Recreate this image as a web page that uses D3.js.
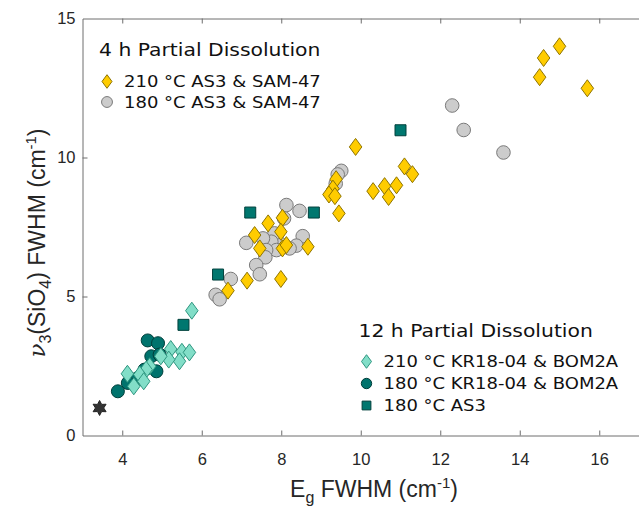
<!DOCTYPE html>
<html>
<head>
<meta charset="utf-8">
<script src="https://cdn.jsdelivr.net/npm/d3@7"></script>
<style>
  body { margin: 0; background: #fff; }
  svg { display: block; }
</style>
</head>
<body>
<svg id="chart" width="639" height="508"></svg>
<script>
// Points are [Eg FWHM, v3(SiO4) FWHM], both in cm^-1.

// 4 h partial dissolution, 210 °C (AS3 & SAM-47)
const h4_210 = [
  [15.00, 14.00], [14.60, 13.58], [14.50, 12.89], [15.70, 12.49],
  [9.87, 10.38], [11.10, 9.68], [11.30, 9.40], [10.31, 8.79], [10.60, 8.97],
  [10.90, 9.00], [10.70, 8.58], [9.38, 9.22], [9.30, 8.88], [9.20, 8.67],
  [9.35, 8.61], [9.45, 7.99], [7.67, 7.63], [8.03, 7.83], [7.99, 7.33],
  [7.33, 7.21], [7.46, 6.73], [8.03, 6.73], [8.13, 6.85], [8.67, 6.79],
  [7.14, 5.57], [7.99, 5.63], [6.66, 5.21]
];

// 4 h partial dissolution, 180 °C (AS3 & SAM-47)
const h4_180 = [
  [12.30, 11.87], [12.59, 10.99], [13.59, 10.18],
  [9.51, 9.52], [9.42, 9.39], [9.37, 9.06],
  [8.13, 8.29], [8.46, 8.08], [8.07, 7.81], [8.54, 7.17], [8.38, 6.83],
  [8.21, 6.73], [7.96, 6.91], [7.83, 7.27], [7.75, 6.97], [7.54, 7.09],
  [7.88, 6.67], [7.62, 6.67], [7.60, 6.41], [7.12, 6.93], [7.37, 6.13],
  [7.46, 5.80], [6.73, 5.63], [6.35, 5.06], [6.45, 4.90]
];

// 12 h partial dissolution, 210 °C (KR18-04 & BOM2A)
const h12_210 = [
  [5.75, 4.49], [5.22, 3.11], [5.50, 3.01], [5.69, 2.99], [5.44, 2.67],
  [5.17, 2.73], [4.97, 2.85], [4.69, 2.49], [4.60, 2.37], [4.44, 2.19],
  [4.54, 1.95], [4.29, 1.77], [4.13, 2.22]
];

// 12 h partial dissolution, 180 °C (KR18-04 & BOM2A)
const h12_180 = [
  [4.64, 3.42], [4.90, 3.32], [4.73, 2.85], [4.94, 2.91], [4.86, 2.31],
  [4.56, 2.37], [4.39, 2.07], [4.14, 1.89], [3.89, 1.59]
];

// 12 h partial dissolution, 180 °C (AS3)
const h12_180_as3 = [
  [11.00, 10.98], [8.82, 8.02], [7.22, 8.02], [6.41, 5.79], [5.54, 3.98]
];

// Reference point (star)
const refPoint = [[3.43, 0.99]];

const xTicks = [4, 6, 8, 10, 12, 14, 16];
const yTicks = [0, 5, 10, 15];

const legend4h = {
  title: "4 h Partial Dissolution",
  items: [
    { label: "210 °C AS3 & SAM-47", style: "yellowDiamond" },
    { label: "180 °C AS3 & SAM-47", style: "greyCircle" }
  ]
};
const legend12h = {
  title: "12 h Partial Dissolution",
  items: [
    { label: "210 °C KR18-04 & BOM2A", style: "mintDiamond" },
    { label: "180 °C KR18-04 & BOM2A", style: "tealCircle" },
    { label: "180 °C AS3", style: "tealSquare" }
  ]
};

// ---------------------------------------------------------------
const svg = d3.select("#chart");

const x = d3.scaleLinear().domain([3, 17]).range([82.5, 639]);
const y = d3.scaleLinear().domain([0, 15]).range([435.5, 18.5]);

const styles = {
  yellowDiamond: { shape: "diamond", fill: "#FFCC00", stroke: "#8F7400", w: 12.5, h: 17 },
  greyCircle:    { shape: "circle",  fill: "#CCCCCC", stroke: "#7A7A7A", r: 6.8 },
  mintDiamond:   { shape: "diamond", fill: "#82DEC8", stroke: "#2E9680", w: 12.5, h: 17 },
  tealCircle:    { shape: "circle",  fill: "#00736D", stroke: "#003E3A", r: 6.5 },
  tealSquare:    { shape: "square",  fill: "#00776F", stroke: "#00403C", s: 11 },
  star:          { shape: "star",    fill: "#333333", stroke: "#222222", r: 7.5 }
};

function markerPath(st, cx, cy, k = 1) {
  if (st.shape === "diamond") {
    const w = st.w * k / 2, h = st.h * k / 2;
    return `M${cx},${cy - h}L${cx + w},${cy}L${cx},${cy + h}L${cx - w},${cy}Z`;
  }
  if (st.shape === "square") {
    const s = st.s * k / 2;
    return `M${cx - s},${cy - s}H${cx + s}V${cy + s}H${cx - s}Z`;
  }
  if (st.shape === "star") {
    // six-pointed star
    const ro = st.r * k, ri = ro * 0.55;
    let p = "";
    for (let i = 0; i < 12; i++) {
      const a = -Math.PI / 2 + i * Math.PI / 6;
      const rr = i % 2 === 0 ? ro : ri;
      p += (i ? "L" : "M") + (cx + rr * Math.cos(a)) + "," + (cy + rr * Math.sin(a));
    }
    return p + "Z";
  }
  const r = st.r * k;
  return `M${cx - r},${cy}A${r},${r} 0 1,0 ${cx + r},${cy}A${r},${r} 0 1,0 ${cx - r},${cy}Z`;
}

// ---- axes box --------------------------------------------------
const axisColor = "#6E6E6E";
const textColor = "#262626";

const gx = svg.append("g").attr("transform", `translate(0,${y(0)})`)
  .call(d3.axisBottom(x).tickValues(xTicks).tickSizeInner(-5).tickSizeOuter(0).tickPadding(18));
const gxt = svg.append("g").attr("transform", `translate(0,${y(15)})`)
  .call(d3.axisTop(x).tickValues(xTicks).tickSizeInner(-5).tickSizeOuter(0).tickFormat(""));
const gy = svg.append("g").attr("transform", `translate(${x(3)},0)`)
  .call(d3.axisLeft(y).tickValues(yTicks).tickSizeInner(-5).tickSizeOuter(0).tickPadding(7));

[gx, gxt, gy].forEach(g => {
  g.select(".domain").attr("stroke", axisColor);
  g.selectAll(".tick line").attr("stroke", axisColor);
  g.selectAll(".tick text")
    .attr("fill", textColor)
    .attr("font-family", "'Liberation Sans', Arial, sans-serif")
    .attr("font-size", 16.5);
});
gy.selectAll(".tick").filter(d => d === 0 || d === 15).select("line").remove();

// ---- data marks --------------------------------------------------
function drawSeries(data, st) {
  svg.append("g").selectAll("path").data(data).join("path")
    .attr("d", d => markerPath(st, x(d[0]), y(d[1])))
    .attr("fill", st.fill)
    .attr("stroke", st.stroke)
    .attr("stroke-width", 1);
}
drawSeries(h4_180, styles.greyCircle);
drawSeries(h4_210, styles.yellowDiamond);
drawSeries(h12_180, styles.tealCircle);
drawSeries(h12_210, styles.mintDiamond);
drawSeries(h12_180_as3, styles.tealSquare);
drawSeries(refPoint, styles.star);

// ---- axis titles -------------------------------------------------
const xl = svg.append("text")
  .attr("x", 374).attr("y", 497)
  .attr("text-anchor", "middle")
  .attr("font-family", "'Liberation Sans', Arial, sans-serif")
  .attr("font-size", 23)
  .attr("fill", textColor);
xl.append("tspan").text("E");
xl.append("tspan").attr("dy", 6).attr("font-size", 16).text("g");
xl.append("tspan").attr("dy", -6).text(" FWHM (cm");
xl.append("tspan").attr("dy", -9).attr("font-size", 15).text("-1");
xl.append("tspan").attr("dy", 9).text(")");

const yl = svg.append("text")
  .attr("transform", "translate(45,243) rotate(-90)")
  .attr("text-anchor", "middle")
  .attr("font-family", "'Liberation Sans', Arial, sans-serif")
  .attr("font-size", 23)
  .attr("fill", textColor);
yl.append("tspan").attr("font-family", "'DejaVu Serif', serif").attr("font-style", "italic").text("ν");
yl.append("tspan").attr("dy", 6).attr("font-size", 16).text("3");
yl.append("tspan").attr("dy", -6).text("(SiO");
yl.append("tspan").attr("dy", 6).attr("font-size", 16).text("4");
yl.append("tspan").attr("dy", -6).text(") FWHM (cm");
yl.append("tspan").attr("dy", -9).attr("font-size", 15).text("-1");
yl.append("tspan").attr("dy", 9).text(")");

// ---- legends ----------------------------------------------------
function drawLegend(lg, x0, titleY, rowY, rowGap) {
  const g = svg.append("g");
  g.append("text")
    .attr("transform", `translate(${x0},${titleY}) scale(1.13,1)`)
    .attr("font-family", "'DejaVu Sans', Verdana, sans-serif")
    .attr("font-size", 18)
    .attr("fill", "#111")
    .text(lg.title);
  lg.items.forEach((it, i) => {
    const cy = rowY + i * rowGap;
    const st = styles[it.style];
    g.append("path")
      .attr("d", markerPath(st, x0 + 8, cy, 0.8))
      .attr("fill", st.fill).attr("stroke", st.stroke).attr("stroke-width", 1);
    g.append("text")
      .attr("transform", `translate(${x0 + 25},${cy + 5.5}) scale(1.2,1)`)
      .attr("font-family", "'DejaVu Sans', Verdana, sans-serif")
      .attr("font-size", 15)
      .attr("fill", "#111")
      .text(it.label);
  });
}
drawLegend(legend4h, 99, 56, 81.5, 20.5);
drawLegend(legend12h, 358.5, 337, 361.5, 22);
</script>
</body>
</html>
